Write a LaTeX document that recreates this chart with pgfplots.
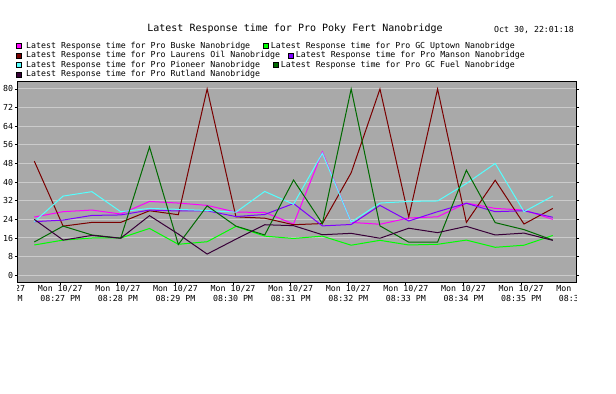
\documentclass[border=0pt]{standalone}
\usepackage{pgfplots}
\pgfplotsset{compat=1.18}
\usepackage{fontspec}
\setmainfont{DejaVu Sans Mono}
\definecolor{plotgray}{HTML}{A9A9A9}
\definecolor{gridgray}{HTML}{CBCBCB}
\definecolor{cBuske}{HTML}{FF00FF}
\definecolor{cUptown}{HTML}{00FF00}
\definecolor{cLaurens}{HTML}{7A0000}
\definecolor{cManson}{HTML}{7F00FF}
\definecolor{cPioneer}{HTML}{55FFFF}
\definecolor{cFuel}{HTML}{006A00}
\definecolor{cRutland}{HTML}{380038}
\newcommand{\sm}{\fontsize{8.3}{10.6}\selectfont}
\newcommand{\tl}{\fontsize{10.05}{12}\selectfont}

\pgfplotstableread{
k Buske Uptown Laurens Manson Pioneer Fuel Rutland
0  25   13   49   23   23   14.3 24
1  27.3 15.1 21.1 23.7 34   21.1 15.1
2  28   16   22.7 25.7 35.9 17.3 17.1
3  26.3 16   22.7 25.9 27.3 15.9 15.9
4  31.7 20.1 27.7 28   28.7 55.1 25.6
5  31   13.3 26   27.6 28.3 13.2 17.7
6  30   14.4 80   27.7 27.8 29.8 9.1
7  27.1 21   25.1 25.2 27.1 21.1 15.5
8  27   16.8 24.5 26.1 36   17.3 21.7
9  22   15.8 21.7 30.8 30.5 40.9 21.3
10 53   16.8 22.2 21.2 52.4 22.2 17.4
11 22.7 12.9 44   21.8 22.8 80   18
12 21.9 15   80   30   31   21.2 15.9
13 24.6 13   25   23.3 31.7 14.2 20.2
14 25.1 13.3 80   27.3 31.9 14.2 18.3
15 31   15.1 22.7 30.9 39.4 45.1 21
16 28.7 12   40.8 27.3 48   22.6 17.3
17 28   12.9 22   27.7 27.3 19.6 18.1
18 24   17.1 28.7 24.9 34   15.1 15
}\data

\begin{document}
\begin{tikzpicture}[x=1bp,y=1bp]
\path[use as bounding box] (0,0) rectangle (616,393);
% title and date
\node[anchor=base, inner sep=0, font=\tl] at (295,362) {Latest Response time for Pro Poky Fert Nanobridge};
\node[anchor=base west, inner sep=0, font=\sm] at (494,360.7) {Oct 30, 22:01:18};
% legend (flow layout)
\tikzset{lsq/.style={draw=black, line width=0.5bp}}
\filldraw[fill=cBuske,lsq] (16,344.5) rectangle (21,349.5);
\node[anchor=base west, inner sep=0, font=\sm] at (26,345) {Latest Response time for Pro Buske Nanobridge};
\filldraw[fill=cUptown,lsq] (263.3,344.5) rectangle (268.3,349.5);
\node[anchor=base west, inner sep=0, font=\sm] at (270.7,345) {Latest Response time for Pro GC Uptown Nanobridge};
\filldraw[fill=cLaurens,lsq] (16,335) rectangle (21,340);
\node[anchor=base west, inner sep=0, font=\sm] at (26,335.5) {Latest Response time for Pro Laurens Oil Nanobridge};
\filldraw[fill=cManson,lsq] (288.3,335) rectangle (293.3,340);
\node[anchor=base west, inner sep=0, font=\sm] at (295.7,335.5) {Latest Response time for Pro Manson Nanobridge};
\filldraw[fill=cPioneer,lsq] (16,325.5) rectangle (21,330.5);
\node[anchor=base west, inner sep=0, font=\sm] at (26,326) {Latest Response time for Pro Pioneer Nanobridge};
\filldraw[fill=cFuel,lsq] (273.3,325.5) rectangle (278.3,330.5);
\node[anchor=base west, inner sep=0, font=\sm] at (280.7,326) {Latest Response time for Pro GC Fuel Nanobridge};
\filldraw[fill=cRutland,lsq] (16,316) rectangle (21,321);
\node[anchor=base west, inner sep=0, font=\sm] at (26,316.5) {Latest Response time for Pro Rutland Nanobridge};

\begin{axis}[
  at={(17.3bp,111bp)}, anchor=south west,
  width=559.4bp, height=200bp, scale only axis,
  xmin=-0.59, xmax=18.83, ymin=-2.9, ymax=83,
  axis background/.style={fill=plotgray},
  axis line style={black, line width=1bp},
  tick style={black, line width=0.8bp},
  tick align=outside, major tick length=2.5bp,
  xtick pos=bottom, ytick pos=both,
  ytick={0,8,...,80},
  xtick={0.9,2.9,4.9,6.9,8.9,10.9,12.9,14.9,16.9},
  xticklabels={Mon 10/27\\08:27 PM, Mon 10/27\\08:28 PM, Mon 10/27\\08:29 PM, Mon 10/27\\08:30 PM, Mon 10/27\\08:31 PM, Mon 10/27\\08:32 PM, Mon 10/27\\08:33 PM, Mon 10/27\\08:34 PM, Mon 10/27\\08:35 PM},
  xticklabel style={font=\sm, align=center, inner sep=0pt, anchor=north, yshift=-0.5bp},
  yticklabel style={font=\sm, inner sep=0pt, anchor=east, xshift=-1.5bp},
  /pgf/number format/assume math mode=true,
  ymajorgrids, grid style={gridgray, line width=1bp},
  every axis plot/.append style={line width=1bp, mark=none},
]
\coordinate (LL) at (rel axis cs:0,0);
\coordinate (LR) at (rel axis cs:1,0);
\coordinate (TL) at (axis cs:-1.1,-2.9);
\coordinate (TR) at (axis cs:18.9,-2.9);
\addplot[cBuske] table[x=k,y=Buske] {\data};
\addplot[cUptown] table[x=k,y=Uptown] {\data};
\addplot[cLaurens] table[x=k,y=Laurens] {\data};
\addplot[cManson] table[x=k,y=Manson] {\data};
\addplot[cPioneer] table[x=k,y=Pioneer] {\data};
\addplot[cFuel] table[x=k,y=Fuel] {\data};
\addplot[cRutland] table[x=k,y=Rutland] {\data};
\end{axis}
% clipped partial tick labels at both ends
\begin{scope}
\clip (LL) rectangle ([yshift=-30bp]LR);
\node[font=\sm, align=center, inner sep=0pt, anchor=north] at ([yshift=-3bp]TL) {Mon 10/27\\08:26 PM};
\node[font=\sm, align=center, inner sep=0pt, anchor=north] at ([yshift=-3bp]TR) {Mon 10/27\\08:36 PM};
\end{scope}
\end{tikzpicture}
\end{document}
